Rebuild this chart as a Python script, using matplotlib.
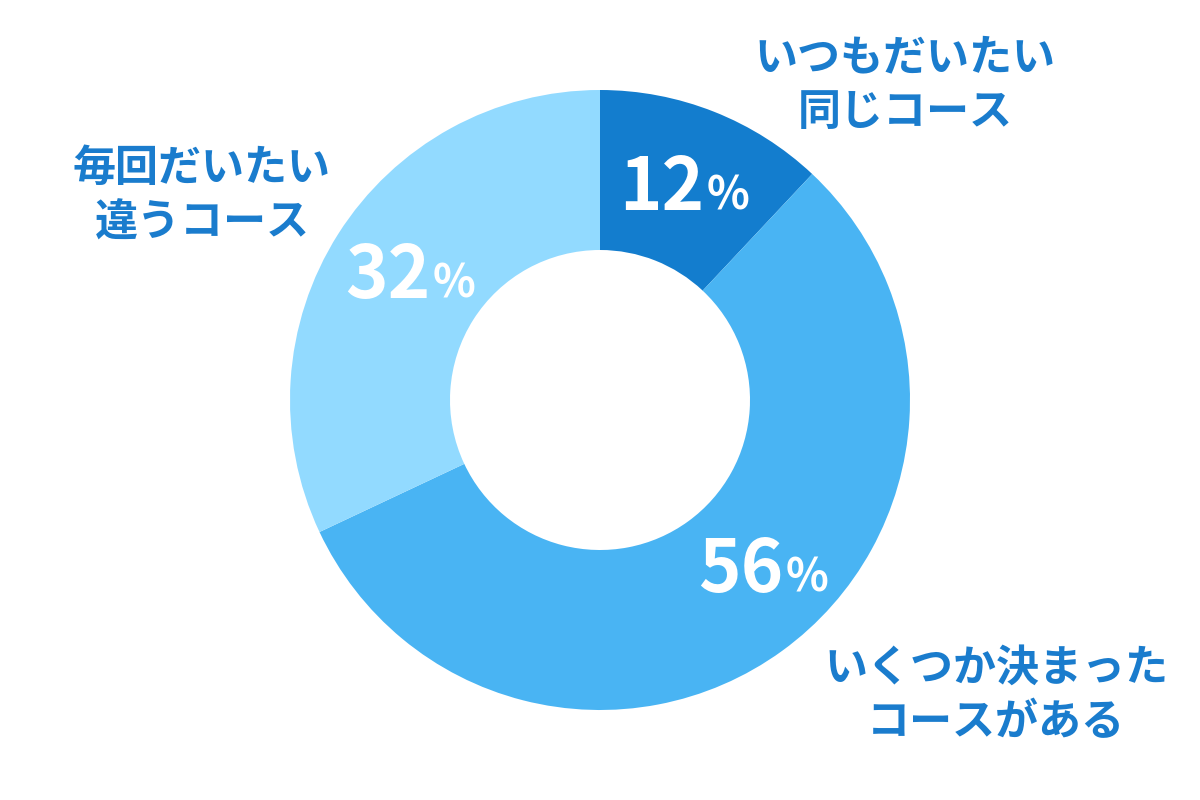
import matplotlib
matplotlib.use("Agg")
import matplotlib.pyplot as plt

categories = ["いつもだいたい\n同じコース", "いくつか決まった\nコースがある", "毎回だいたい\n違うコース"]
values = [12, 56, 32]
colors = ["#137dce", "#49b4f3", "#92daff"]
text_color = "#1a7ccd"

# layout (pixel coordinates, y from top): junction between number and %, baseline
pct_pos = [(704, 210), (783, 592), (430, 298)]
cat_pos = [(905, 85), (996, 695), (202, 195)]

fig = plt.figure(figsize=(12, 8), dpi=100)
ax = fig.add_axes([0, 0, 1, 1])
ax.axis("off")

ax.pie(values, colors=colors, startangle=90, counterclock=False,
       radius=310, center=(600, 400),
       wedgeprops=dict(width=160, linewidth=0))
ax.set_xlim(0, 1200)
ax.set_ylim(0, 800)
ax.set_aspect("equal")

jp = ["Noto Sans CJK JP", "DejaVu Sans"]
for v, (x, y) in zip(values, pct_pos):
    ax.text(x, 800 - y, f"{v}", ha="right", va="baseline", color="white",
            fontsize=52, fontweight="bold", family=jp)
    ax.text(x + 3, 800 - y, "%", ha="left", va="baseline", color="white",
            fontsize=32, fontweight="bold", family=jp)

for c, (x, y) in zip(categories, cat_pos):
    ax.text(x, 800 - y, c, ha="center", va="center", color=text_color,
            fontsize=31, fontweight="bold", family=jp,
            linespacing=1.3)

fig.savefig("out.png", dpi=100)
